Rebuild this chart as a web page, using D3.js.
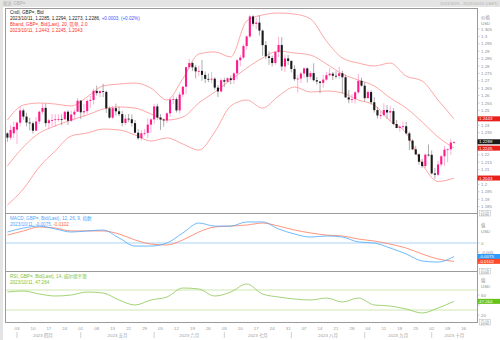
<!DOCTYPE html>
<html>
<head>
<meta charset="utf-8">
<script src="https://cdn.jsdelivr.net/npm/d3@7"></script>
<style>
  html, body { margin: 0; padding: 0; background: #fff; }
  svg { display: block; font-family: "Liberation Sans", "Noto Sans CJK SC", sans-serif; }
</style>
</head>
<body>
<div id="chart"></div>
<script>
// daily GBP= candles, 2023/3/29 .. 2023/10/11 (trading days)
var opens = [1.2345,1.2316,1.2345,1.2370,1.2417,1.2500,1.2458,1.2418,1.2413,1.2363,1.2425,1.2491,1.2517,1.2414,1.2433,1.2435,1.2440,1.2442,1.2440,1.2491,
  1.2430,1.2472,1.2491,1.2566,1.2487,1.2495,1.2564,1.2570,1.2632,1.2617,1.2630,1.2625,1.2514,1.2451,1.2515,1.2494,1.2475,1.2415,1.2444,1.2440,
  1.2414,1.2349,1.2312,1.2345,1.2348,1.2404,1.2439,1.2527,1.2452,1.2438,1.2432,1.2480,1.2573,1.2576,1.2500,1.2607,1.2660,1.2792,1.2820,1.2791,
  1.2764,1.2767,1.2740,1.2713,1.2710,1.2714,1.2654,1.2628,1.2704,1.2694,1.2717,1.2705,1.2750,1.2839,1.2857,1.2935,1.3000,1.3135,1.3085,1.3093,
  1.3039,1.2941,1.2866,1.2854,1.2820,1.2895,1.2942,1.2797,1.2851,1.2834,1.2780,1.2711,1.2715,1.2749,1.2784,1.2727,1.2752,1.2704,1.2695,1.2686,
  1.2708,1.2738,1.2748,1.2734,1.2733,1.2751,1.2724,1.2588,1.2574,1.2576,1.2622,1.2700,1.2667,1.2583,1.2624,1.2555,1.2502,1.2466,1.2468,1.2503,
  1.2486,1.2495,1.2408,1.2381,1.2390,1.2393,1.2345,1.2296,1.2237,1.2203,1.2153,1.2124,1.2201,1.2200,1.2074,1.2065,1.2135,1.2190,1.2235,1.2237,
  1.2285];
var highs = [1.2352,1.2400,1.2424,1.2424,1.2525,1.2513,1.2484,1.2450,1.2424,1.2455,1.2500,1.2546,1.2546,1.2444,1.2475,1.2475,1.2473,1.2474,1.2497,1.2500,
  1.2500,1.2507,1.2584,1.2569,1.2544,1.2577,1.2597,1.2646,1.2668,1.2638,1.2680,1.2634,1.2527,1.2531,1.2546,1.2525,1.2497,1.2470,1.2476,1.2473,
  1.2435,1.2373,1.2367,1.2374,1.2446,1.2446,1.2544,1.2545,1.2475,1.2445,1.2488,1.2580,1.2599,1.2588,1.2625,1.2666,1.2794,1.2849,1.2830,1.2807,
  1.2803,1.2841,1.2763,1.2750,1.2760,1.2724,1.2672,1.2717,1.2720,1.2724,1.2736,1.2760,1.2848,1.2874,1.2946,1.3005,1.3144,1.3143,1.3125,1.3142,
  1.3047,1.2968,1.2899,1.2870,1.2900,1.2996,1.2996,1.2876,1.2875,1.2840,1.2806,1.2738,1.2760,1.2790,1.2790,1.2766,1.2818,1.2727,1.2698,1.2738,
  1.2760,1.2786,1.2760,1.2764,1.2795,1.2768,1.2742,1.2637,1.2610,1.2630,1.2746,1.2720,1.2690,1.2640,1.2635,1.2590,1.2524,1.2495,1.2548,1.2536,
  1.2529,1.2515,1.2436,1.2399,1.2425,1.2423,1.2357,1.2305,1.2260,1.2210,1.2172,1.2208,1.2270,1.2230,1.2110,1.2160,1.2201,1.2260,1.2243,1.2308,
  1.2294];
var lows = [1.2288,1.2300,1.2310,1.2274,1.2393,1.2437,1.2392,1.2365,1.2344,1.2360,1.2407,1.2475,1.2390,1.2375,1.2390,1.2389,1.2425,1.2400,1.2437,1.2401,
  1.2420,1.2440,1.2490,1.2441,1.2456,1.2474,1.2515,1.2540,1.2600,1.2590,1.2590,1.2482,1.2443,1.2441,1.2465,1.2460,1.2392,1.2401,1.2420,1.2391,
  1.2346,1.2302,1.2296,1.2330,1.2313,1.2349,1.2410,1.2437,1.2368,1.2391,1.2414,1.2455,1.2542,1.2486,1.2480,1.2590,1.2610,1.2780,1.2766,1.2716,
  1.2731,1.2700,1.2685,1.2690,1.2683,1.2640,1.2590,1.2620,1.2658,1.2686,1.2677,1.2678,1.2711,1.2798,1.2846,1.2910,1.2990,1.3069,1.3050,1.3006,
  1.2869,1.2845,1.2808,1.2797,1.2808,1.2860,1.2768,1.2760,1.2807,1.2757,1.2700,1.2620,1.2685,1.2720,1.2688,1.2710,1.2695,1.2675,1.2615,1.2653,
  1.2700,1.2731,1.2705,1.2715,1.2716,1.2615,1.2585,1.2548,1.2550,1.2546,1.2610,1.2660,1.2560,1.2580,1.2540,1.2485,1.2445,1.2441,1.2460,1.2443,
  1.2427,1.2400,1.2380,1.2356,1.2370,1.2336,1.2231,1.2231,1.2198,1.2133,1.2110,1.2112,1.2188,1.2067,1.2037,1.2055,1.2120,1.2125,1.2150,1.2200,
  1.2273];
var closes = [1.2316,1.2368,1.2388,1.2417,1.2500,1.2458,1.2418,1.2413,1.2363,1.2425,1.2491,1.2517,1.2414,1.2433,1.2435,1.2440,1.2442,1.2440,1.2491,1.2430,
  1.2472,1.2491,1.2566,1.2487,1.2495,1.2564,1.2570,1.2632,1.2617,1.2630,1.2625,1.2514,1.2451,1.2515,1.2494,1.2475,1.2415,1.2444,1.2440,1.2414,
  1.2349,1.2312,1.2345,1.2348,1.2404,1.2439,1.2527,1.2452,1.2438,1.2432,1.2480,1.2573,1.2576,1.2500,1.2607,1.2660,1.2792,1.2820,1.2791,1.2764,
  1.2767,1.2740,1.2713,1.2710,1.2714,1.2654,1.2628,1.2704,1.2694,1.2717,1.2705,1.2750,1.2839,1.2857,1.2935,1.3000,1.3135,1.3085,1.3093,1.3039,
  1.2941,1.2866,1.2854,1.2820,1.2895,1.2942,1.2797,1.2851,1.2834,1.2780,1.2711,1.2715,1.2749,1.2784,1.2727,1.2752,1.2704,1.2695,1.2686,1.2708,
  1.2738,1.2748,1.2734,1.2733,1.2751,1.2724,1.2588,1.2574,1.2576,1.2622,1.2700,1.2667,1.2583,1.2624,1.2555,1.2502,1.2466,1.2468,1.2503,1.2486,
  1.2495,1.2408,1.2381,1.2390,1.2393,1.2345,1.2296,1.2237,1.2203,1.2153,1.2124,1.2201,1.2200,1.2074,1.2065,1.2135,1.2190,1.2235,1.2237,1.2283,
  1.2286];

// indicator lines, read every 5th trading day (index into the candles)
var sampleIdx = [0,5,10,15,20,25,30,35,40,45,50,55,60,65,70,75,80,85,90,95,100,105,110,115,120,125,130,135,140];
var bandUpper = [1.2435,1.2536,1.2550,1.2543,1.2530,1.2591,1.2665,1.2678,1.2685,1.2651,1.2570,1.2715,1.2881,1.2895,1.2861,
  1.3104,1.3145,1.3158,1.3151,1.3118,1.2969,1.2854,1.2820,1.2800,1.2820,1.2732,1.2699,1.2570,1.2443];
var bandMid = [1.2124,1.2253,1.2347,1.2395,1.2435,1.2469,1.2509,1.2523,1.2516,1.2476,1.2435,1.2455,1.2550,1.2624,1.2705,
  1.2786,1.2854,1.2901,1.2888,1.2874,1.2814,1.2746,1.2705,1.2665,1.2584,1.2516,1.2422,1.2320,1.2245];
var bandLower = [1.1861,1.1969,1.2118,1.2226,1.2327,1.2347,1.2374,1.2368,1.2334,1.2293,1.2314,1.2273,1.2232,1.2354,1.2530,
  1.2570,1.2516,1.2597,1.2658,1.2624,1.2631,1.2618,1.2570,1.2536,1.2428,1.2347,1.2138,1.2020,1.2043];
var macdLine = [0.0061,0.0083,0.0094,0.0078,0.0061,0.0067,0.0072,0.0028,-0.0017,-0.0017,0.0000,0.0056,0.0111,0.0094,0.0094,
  0.0117,0.0117,0.0078,0.0050,0.0033,0.0039,0.0033,0.0006,0.0000,-0.0028,-0.0061,-0.0100,-0.0106,-0.0075];
var macdSignal = [0.0044,0.0067,0.0089,0.0083,0.0067,0.0067,0.0067,0.0050,0.0017,-0.0006,-0.0011,0.0017,0.0061,0.0089,0.0094,
  0.0100,0.0111,0.0094,0.0072,0.0056,0.0044,0.0039,0.0022,0.0011,-0.0006,-0.0028,-0.0061,-0.0089,-0.0102];
var rsiLine = [66,68,62,58,60,66,64,50,40,50,56,74,72,58,66,82,62,56,52,50,54,46,54,40,38,32,24,34,47.264];

var priceTicks = [1.185,1.19,1.195,1.2,1.205,1.21,1.215,1.22,1.225,1.23,1.235,1.24,1.245,1.25,1.255,1.26,1.265,1.27,1.275,1.28,1.285,1.29,1.295,1.3,1.305];
var macdTicks = [0, -0.005];
var rsiTicks = [60, 40, 20];
var monthNames = ["2023 四月","2023 五月","2023 六月","2023 七月","2023 八月","2023 九月","2023 十月"];

var W = 500, H = 340;
var left = 5, right = 477;

// trading days from 3/29 to 10/20
var dates = d3.timeDay.range(new Date(2023, 2, 29), new Date(2023, 9, 21))
  .filter(function(d) { return d.getDay() !== 0 && d.getDay() !== 6; });

var candles = closes.map(function(c, i) {
  return {i: i, o: opens[i], h: highs[i], l: lows[i], c: c};
});

var x = d3.scaleLinear().domain([-0.75, 147.2]).range([left, right]);
var yP = d3.scaleLinear().domain([1.305, 1.185]).range([29, 206.6]);
var yM = d3.scaleLinear().domain([0, -0.005]).range([243, 252]);
var yR = d3.scaleLinear().domain([100, 0]).range([275, 325]);

var svg = d3.select("#chart").append("svg")
  .attr("width", W)
  .attr("height", H);

svg.append("rect").attr("width", W).attr("height", H).attr("fill", "#fff");

// top strip
svg.append("rect").attr("x", 0).attr("y", 0).attr("width", W).attr("height", 7).attr("fill", "#e4e4e4");
svg.append("text").attr("x", 3).attr("y", 5.3).attr("font-size", 4.5).attr("fill", "#b0b0b0").text("图表 GBP=");
svg.append("text").attr("x", 498).attr("y", 5.3).attr("font-size", 4.3).attr("fill", "#b0b0b0")
  .attr("text-anchor", "end").text("2023/3/29 - 2023/10/20 (GMT)");
svg.append("rect").attr("x", 0).attr("y", 7).attr("width", 3).attr("height", H - 7).attr("fill", "#e4e4e4");

// panel frames
var panels = [[8, 213], [213, 271], [271, 322]];
panels.forEach(function(p, k) {
  svg.append("rect")
    .attr("x", left + 0.5).attr("y", p[0] + 0.5)
    .attr("width", right - left).attr("height", p[1] - p[0])
    .attr("fill", "none").attr("stroke", "#9a9a9a").attr("stroke-width", 1);
  svg.append("clipPath").attr("id", "clip" + k).append("rect")
    .attr("x", left + 1).attr("y", p[0] + 1)
    .attr("width", right - left - 1).attr("height", p[1] - p[0] - 1);
});

function sampledLine(vals, scale) {
  return d3.line()
    .x(function(d, k) { return x(sampleIdx[k]); })
    .y(function(d) { return scale(d); })
    .curve(d3.curveMonotoneX)(vals);
}

// right-hand axis: ticks, labels (skipped where a value box sits on them)
function rightAxis(ticks, scale, fmt, boxYs) {
  var g = svg.append("g").attr("font-size", 4.4).attr("fill", "#8c8c8c");
  ticks.forEach(function(t) {
    var yy = scale(t);
    g.append("line").attr("x1", right).attr("x2", right + 2.5)
      .attr("y1", yy).attr("y2", yy).attr("stroke", "#aaa").attr("stroke-width", 0.6);
    var hidden = boxYs.some(function(b) { return Math.abs(b - yy) < 4.5; });
    if (!hidden) g.append("text").attr("x", right + 4).attr("y", yy + 1.6).text(fmt(t));
  });
  return g;
}

function valueBox(yv, label, fill) {
  svg.append("rect").attr("x", right + 0.5).attr("y", yv - 2.5).attr("width", W - right - 0.5).attr("height", 5)
    .attr("fill", fill);
  svg.append("text").attr("x", right + 2).attr("y", yv + 1.5).attr("font-size", 4.4)
    .attr("fill", "#fff").text(label);
}

// ---- price panel ----
var gP = svg.append("g").attr("clip-path", "url(#clip0)");

[bandUpper, bandMid, bandLower].forEach(function(b) {
  gP.append("path").attr("d", sampledLine(b, yP))
    .attr("fill", "none").attr("stroke", "#ff8f8f").attr("stroke-width", 0.8);
});

var upCol = "#ff1a8c", dnCol = "#1a1a1a";
var cg = gP.selectAll("g.candle").data(candles).enter().append("g").attr("class", "candle");
cg.append("line")
  .attr("x1", function(d) { return x(d.i); })
  .attr("x2", function(d) { return x(d.i); })
  .attr("y1", function(d) { return yP(d.h); })
  .attr("y2", function(d) { return yP(d.l); })
  .attr("stroke", function(d) { return d.c >= d.o ? "#ff8cc6" : "#8a8a8a"; })
  .attr("stroke-width", 0.7);
cg.append("rect")
  .attr("x", function(d) { return x(d.i) - 1.05; })
  .attr("width", 2.1)
  .attr("y", function(d) { return yP(Math.max(d.o, d.c)); })
  .attr("height", function(d) { return Math.max(0.8, Math.abs(yP(d.o) - yP(d.c))); })
  .attr("fill", function(d) { return d.c >= d.o ? upCol : dnCol; });

var lastClose = 1.2288;
var priceBoxes = [bandUpper[bandUpper.length - 1], lastClose, bandMid[bandMid.length - 1], bandLower[bandLower.length - 1]];
var axP = rightAxis(priceTicks, yP, d3.format(""), priceBoxes.map(yP));
axP.append("text").attr("x", right + 4).attr("y", 18.5).text("价格");
axP.append("text").attr("x", right + 4).attr("y", 25).text("USD");

valueBox(yP(priceBoxes[0]), "1.2443", "#e8201c");
valueBox(yP(priceBoxes[1]), "1.2288", "#1a1a1a");
valueBox(yP(priceBoxes[2]), "1.2245", "#e8201c");
valueBox(yP(priceBoxes[3]), "1.2043", "#e8201c");

// header
var hd = svg.append("g").attr("font-size", 4.6);
hd.append("text").attr("x", 10).attr("y", 14).attr("fill", "#222").text("Cndl, GBP=, Bid");
var l2 = hd.append("text").attr("x", 10).attr("y", 20);
l2.append("tspan").attr("fill", "#222").text("2023/10/11, 1.2285, 1.2294, 1.2273, 1.2286, ");
l2.append("tspan").attr("fill", "#3b5bff").text("+0.0003, (+0.02%)");
hd.append("text").attr("x", 10).attr("y", 26).attr("fill", "#ff3030").text("Bband, GBP=, Bid(Last), 20, 简单, 2.0");
hd.append("text").attr("x", 10).attr("y", 32).attr("fill", "#ff3030").text("2023/10/11, 1.2443, 1.2245, 1.2043");

// ---- MACD panel ----
var gM = svg.append("g").attr("clip-path", "url(#clip1)");
gM.append("line").attr("x1", left).attr("x2", right).attr("y1", yM(0)).attr("y2", yM(0))
  .attr("stroke", "#a9d4f5").attr("stroke-width", 1);
gM.append("path").attr("d", sampledLine(macdSignal, yM))
  .attr("fill", "none").attr("stroke", "#ff7a5c").attr("stroke-width", 0.8);
gM.append("path").attr("d", sampledLine(macdLine, yM))
  .attr("fill", "none").attr("stroke", "#4aa8ff").attr("stroke-width", 0.8);

var hm = svg.append("g").attr("font-size", 4.6);
hm.append("text").attr("x", 10).attr("y", 220).attr("fill", "#4aa8ff").text("MACD, GBP=, Bid(Last), 12, 26, 9, 指数");
var m2 = hm.append("text").attr("x", 10).attr("y", 226);
m2.append("tspan").attr("fill", "#4aa8ff").text("2023/10/11, -0.0075, ");
m2.append("tspan").attr("fill", "#ff6040").text("-0.0102");

var macdBoxes = [macdLine[macdLine.length - 1], macdSignal[macdSignal.length - 1]];
var axM = rightAxis(macdTicks, yM, function(t) { return t === 0 ? "0" : String(t); }, macdBoxes.map(yM));
axM.append("text").attr("x", right + 4).attr("y", 226.5).text("值");
axM.append("text").attr("x", right + 4).attr("y", 233).text("USD");
valueBox(yM(macdBoxes[0]), "-0.0075", "#2f9bff");
valueBox(yM(macdBoxes[1]), "-0.0102", "#ff4a2a");

// ---- RSI panel ----
var gR = svg.append("g").attr("clip-path", "url(#clip2)");
[70, 30].forEach(function(t) {
  gR.append("line").attr("x1", left).attr("x2", right).attr("y1", yR(t)).attr("y2", yR(t))
    .attr("stroke", "#cfe8b4").attr("stroke-width", 1);
});
gR.append("path").attr("d", sampledLine(rsiLine, yR))
  .attr("fill", "none").attr("stroke", "#8cc850").attr("stroke-width", 0.8);

var hr = svg.append("g").attr("font-size", 4.6).attr("fill", "#7cbf3a");
hr.append("text").attr("x", 10).attr("y", 277.5).text("RSI, GBP=, Bid(Last), 14, 威尔德平滑");
hr.append("text").attr("x", 10).attr("y", 283.5).text("2023/10/11, 47.264");

var rsiLast = rsiLine[rsiLine.length - 1];
var axR = rightAxis(rsiTicks, yR, String, [yR(rsiLast)]);
axR.append("text").attr("x", right + 4).attr("y", 281.5).text("值");
axR.append("text").attr("x", right + 4).attr("y", 288).text("USD");
valueBox(yR(rsiLast), "47.264", "#66c21a");

// "auto" buttons at panel bottoms
[213, 271, 322].forEach(function(yb) {
  svg.append("rect").attr("x", right + 2.5).attr("y", yb - 2.5).attr("width", 11).attr("height", 5.5)
    .attr("fill", "#fff").attr("stroke", "#b5b5b5").attr("stroke-width", 0.5);
  svg.append("text").attr("x", right + 3.5).attr("y", yb + 1.6).attr("font-size", 4.3)
    .attr("fill", "#999").text("自动");
});

// ---- time axis ----
var axT = svg.append("g").attr("font-size", 4.4).attr("fill", "#9a9a9a").attr("text-anchor", "middle");
dates.forEach(function(d, i) {
  if (d.getDay() === 1) {
    axT.append("text").attr("x", x(i)).attr("y", 329.5).text(d3.timeFormat("%d")(d));
  }
});
var monthStarts = [];
dates.forEach(function(d, i) {
  if (i > 0 && d.getMonth() !== dates[i - 1].getMonth()) monthStarts.push(i);
});
var bounds = [left].concat(monthStarts.slice(1).map(function(i) { return x(i); })).concat([right]);
monthStarts.forEach(function(i) {
  axT.append("line").attr("x1", x(i)).attr("x2", x(i)).attr("y1", 332).attr("y2", 338)
    .attr("stroke", "#b0b0b0").attr("stroke-width", 0.6);
});
monthNames.forEach(function(m, k) {
  axT.append("text").attr("x", (bounds[k] + bounds[k + 1]) / 2).attr("y", 336.5).text(m);
});
</script>
</body>
</html>
